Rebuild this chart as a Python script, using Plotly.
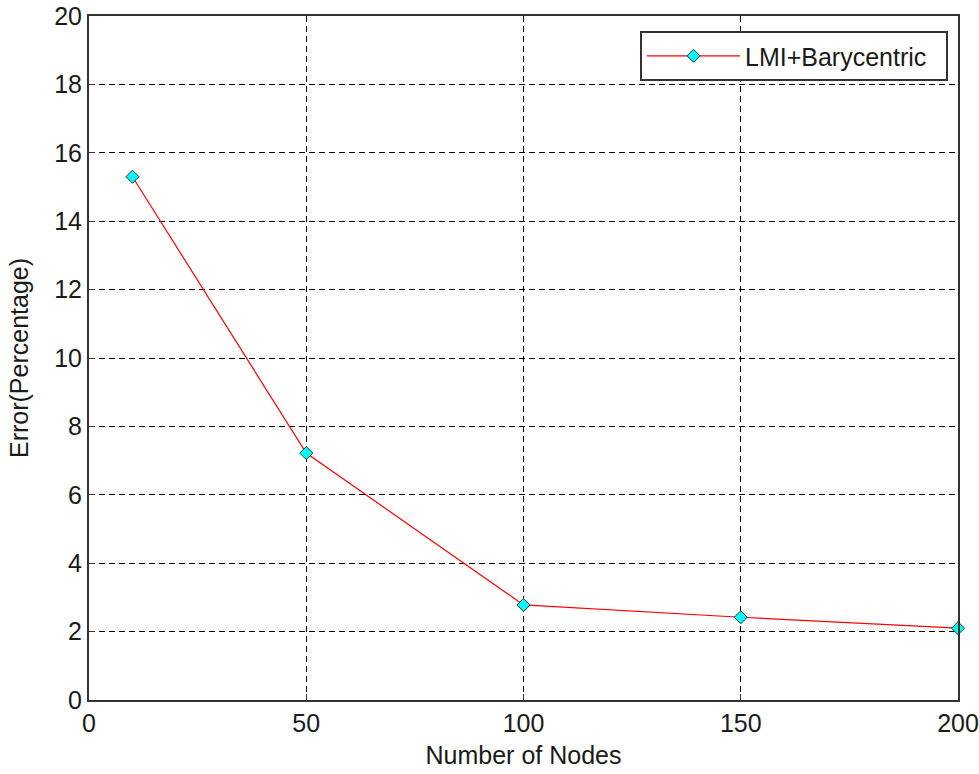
import plotly.graph_objects as go

nodes = [10, 50, 100, 150, 200]
error_pct = [15.3, 7.22, 2.78, 2.42, 2.1]
series_name = "LMI+Barycentric"
x_ticks = [0, 50, 100, 150, 200]
y_ticks = [0, 2, 4, 6, 8, 10, 12, 14, 16, 18, 20]

fig = go.Figure()
fig.add_trace(go.Scatter(
    x=nodes, y=error_pct, mode="lines+markers",
    name=series_name + "\u00a0\u00a0",
    line=dict(color="#ff0000", width=1.2),
    marker=dict(symbol="diamond", size=10, color="#00ffff",
                line=dict(color="#1a3a3a", width=1)),
    cliponaxis=False,
))

font = "Liberation Sans, Arial, sans-serif"
axis_common = dict(
    showgrid=True, gridcolor="#000000", griddash="6px,4px", gridwidth=1,
    showline=True, linecolor="#333333", linewidth=2, mirror=True,
    ticks="inside", ticklen=6, tickcolor="#333333", tickwidth=1,
    zeroline=False, automargin=False,
    tickfont=dict(family=font, size=25, color="#1a1a1a"),
    title_font=dict(family=font, size=25, color="#1a1a1a"),
)
fig.update_xaxes(range=[0, 200], tickvals=x_ticks, title_text="Number of Nodes",
                 title_standoff=10, **axis_common)
fig.update_yaxes(range=[0, 20], tickvals=y_ticks, title_text="Error(Percentage)",
                 title_standoff=18, **axis_common)

fig.update_layout(
    width=979, height=774,
    margin=dict(l=89, r=21, t=16, b=74),
    paper_bgcolor="white", plot_bgcolor="white",
    showlegend=True,
    legend=dict(x=0.9885, y=0.978, xanchor="right", yanchor="top",
                bordercolor="#333333", borderwidth=2, bgcolor="white",
                itemwidth=93,
                font=dict(family=font, size=25, color="#1a1a1a")),
)

fig.write_html("out.html")
